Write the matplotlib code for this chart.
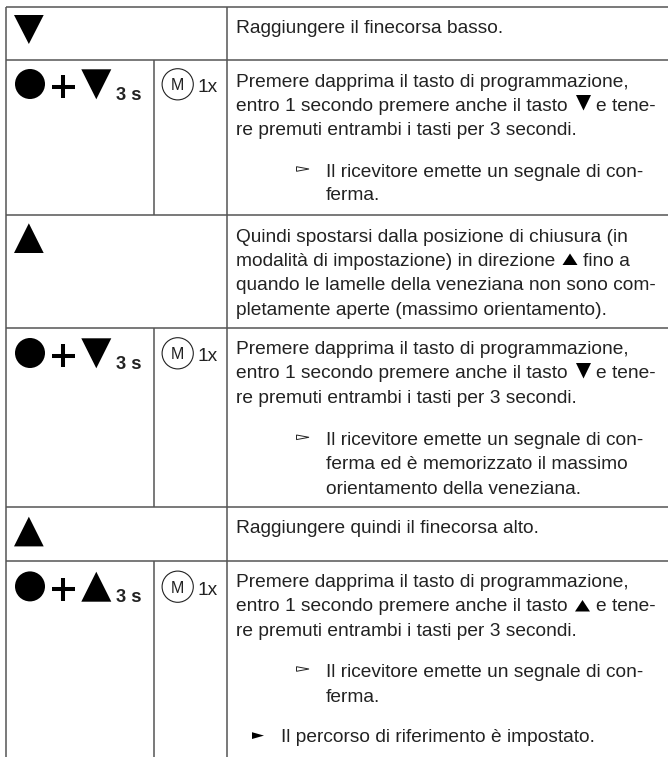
#!/usr/bin/python
# -*- coding: utf-8 -*-
import matplotlib
matplotlib.use("Agg")
import matplotlib.pyplot as plt
from matplotlib.patches import Circle

plt.rcParams['font.family'] = ['Liberation Sans', 'DejaVu Sans']

W, H = 668, 757
INK = '#222222'
RULE = '#555555'

# table grid, in pixels of the page
row_lines = [6.7, 60, 214.7, 328, 507.3, 560.7]
col_outer = [6, 226.7]
col_mid = 153.5
mid_spans = [(60, 214.7), (328, 507.3), (560.7, 757)]

# body text and the baseline of every line
body_lines = [
    "Raggiungere il finecorsa basso.",
    "Premere dapprima il tasto di programmazione,",
    "entro 1 secondo premere anche il tasto",
    "re premuti entrambi i tasti per 3 secondi.",
    "Quindi spostarsi dalla posizione di chiusura (in",
    "modalità di impostazione) in direzione",
    "quando le lamelle della veneziana non sono com-",
    "pletamente aperte (massimo orientamento).",
    "Premere dapprima il tasto di programmazione,",
    "entro 1 secondo premere anche il tasto",
    "re premuti entrambi i tasti per 3 secondi.",
    "Raggiungere quindi il finecorsa alto.",
    "Premere dapprima il tasto di programmazione,",
    "entro 1 secondo premere anche il tasto",
    "re premuti entrambi i tasti per 3 secondi.",
]
body_y = [32.7, 87, 111, 135, 241.7, 265.7, 290, 315, 354.3, 378, 403,
          533, 586.7, 611, 635.7]

# text that carries on after an inline arrow
tail_text = ["e tene-", "fino a", "e tene-", "e tene-"]
tail_x = [596, 583, 596, 596]
tail_y = [111, 265.7, 378, 611]

# indented result lines
result_lines = [
    "Il ricevitore emette un segnale di con-",
    "ferma.",
    "Il ricevitore emette un segnale di con-",
    "ferma ed è memorizzato il massimo",
    "orientamento della veneziana.",
    "Il ricevitore emette un segnale di con-",
    "ferma.",
]
result_y = [176.7, 200, 445, 469, 494, 676.7, 701.7]
open_bullet_y = [176.7, 445, 676.7]

final_text = "Il percorso di riferimento è impostato."
final_y = 742

# key symbols: y of the big arrows on their own, and of the combined rows
big_down_y = [15]
big_up_y = [223.3, 516.7]
combo_y = [69.3, 338.3, 571.7]
combo_dir = ['down', 'down', 'up']
inline_down = [(576, 95), (576, 363)]
inline_up = [(562.5, 253.5), (575, 600)]


def tri(ax, x, y, w, h, up, **kw):
    if up:
        ax.fill([x, x + w, x + w / 2.0], [y + h, y + h, y], lw=0, **kw)
    else:
        ax.fill([x, x + w, x + w / 2.0], [y, y, y + h], lw=0, **kw)


def main():
    fig = plt.figure(figsize=(W / 100.0, H / 100.0), dpi=100)
    ax = fig.add_axes([0, 0, 1, 1])
    ax.set_xlim(0, W)
    ax.set_ylim(H, 0)
    ax.axis('off')

    # grid
    for y in row_lines:
        ax.plot([col_outer[0], W], [y, y], color=RULE, lw=1.1, solid_capstyle='butt')
    for x in col_outer:
        ax.plot([x, x], [row_lines[0], H], color=RULE, lw=1.1, solid_capstyle='butt')
    for y0, y1 in mid_spans:
        ax.plot([col_mid, col_mid], [y0, y1], color=RULE, lw=1.1, solid_capstyle='butt')

    # text
    fs = 13.8
    for s, y in zip(body_lines, body_y):
        ax.text(235.5, y, s, fontsize=fs, color=INK, va='baseline')
    for s, x, y in zip(tail_text, tail_x, tail_y):
        ax.text(x, y, s, fontsize=fs, color=INK, va='baseline')
    for s, y in zip(result_lines, result_y):
        ax.text(326, y, s, fontsize=fs, color=INK, va='baseline')
    ax.text(280.7, final_y, final_text, fontsize=fs, color=INK, va='baseline')

    # bullets
    for y in open_bullet_y:
        ax.fill([296.5, 309, 296.5], [y - 10, y - 7.7, y - 5.4], fc='white',
                ec=INK, lw=0.7)
    ax.fill([252, 264, 252], [final_y - 9.8, final_y - 6.4, final_y - 3], color='black', lw=0)

    # big arrows
    for y in big_down_y:
        tri(ax, 14, y, 29.7, 29, False, color='black')
    for y in big_up_y:
        tri(ax, 14, y, 29.7, 29.7, True, color='black')

    # programming key + arrow + 3 s, and the M1x key
    for y, d in zip(combo_y, combo_dir):
        ax.add_patch(Circle((30, y + 14.7), 15, fc='black', ec='none'))
        ax.plot([52, 75], [y + 17.3, y + 17.3], color='black', lw=2.9, solid_capstyle='butt')
        ax.plot([63.3, 63.3], [y + 5.8, y + 28.8], color='black', lw=2.9, solid_capstyle='butt')
        tri(ax, 81.3, y, 30, 30, d == 'up', color='black')
        ax.text(115.7, y + 30.5, "3 s", fontsize=13.2, fontweight='bold', color=INK, va='baseline')
        ax.add_patch(Circle((177.7, y + 15), 15.6, fc='none', ec=INK, lw=0.8))
        ax.text(177.7, y + 21, "M", fontsize=11.5, color=INK, va='baseline', ha='center')
        ax.text(197.5, y + 23, "1x", fontsize=fs, color=INK, va='baseline')

    # arrows inside the text
    for x, y in inline_down:
        tri(ax, x, y, 15, 15.5, False, color='black')
    for x, y in inline_up:
        tri(ax, x, y, 15, 11.5, True, color='black')

    fig.savefig('out.png', dpi=100, facecolor='white')


if __name__ == "__main__":
    main()
